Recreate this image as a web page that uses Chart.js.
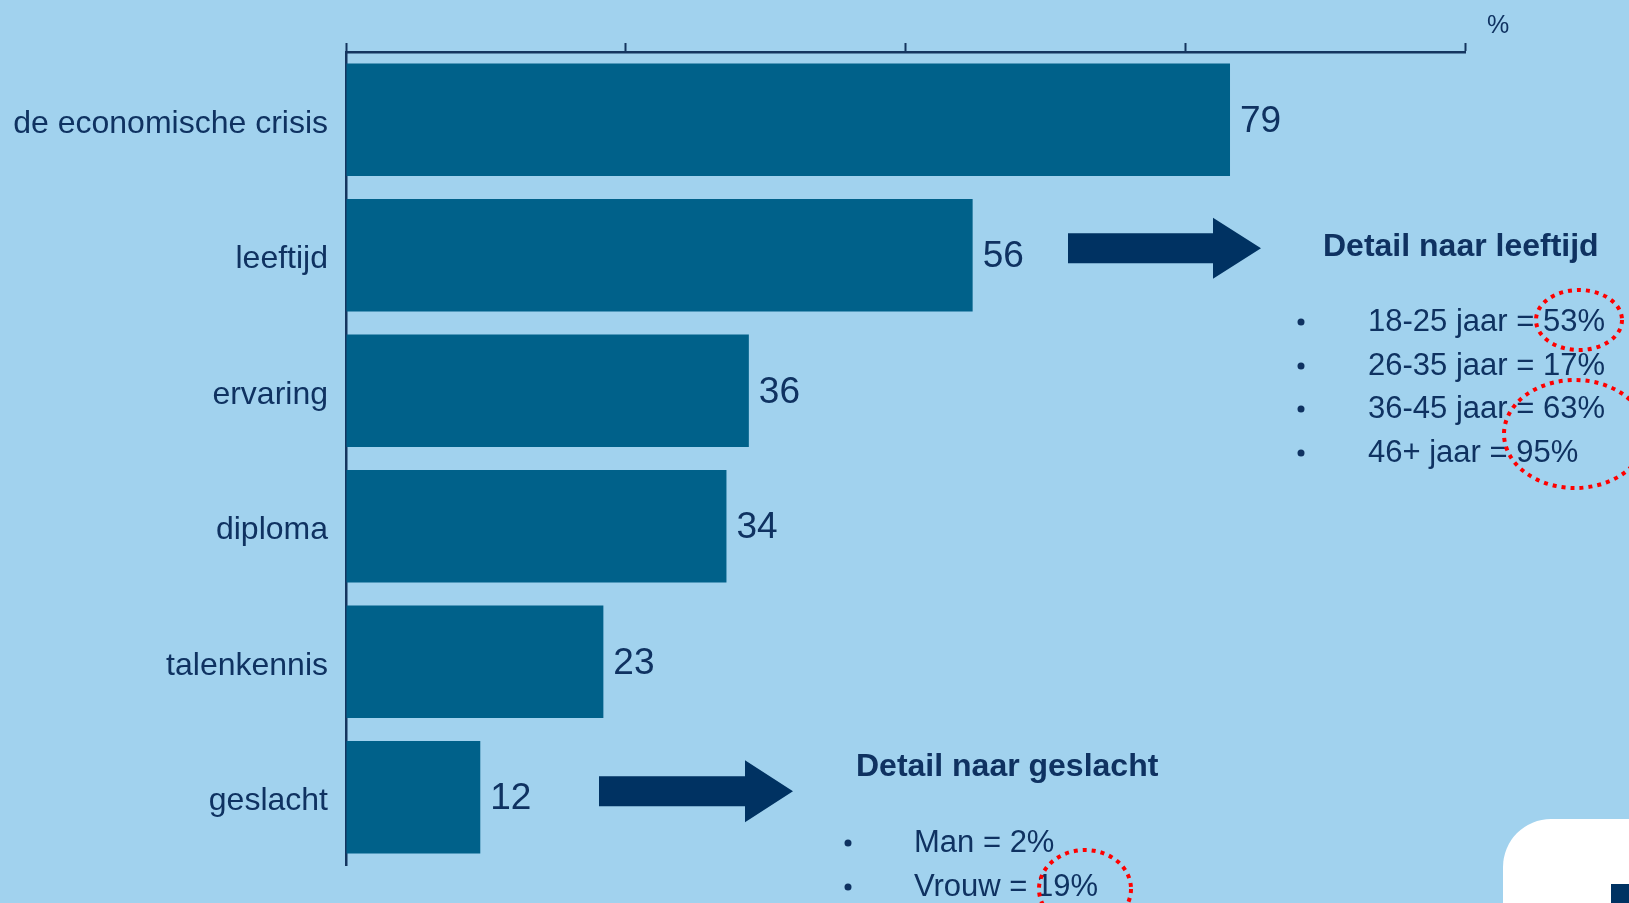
<!DOCTYPE html>
<html>
<head>
<meta charset="utf-8">
<script src="https://cdn.jsdelivr.net/npm/chart.js@4.4.1/dist/chart.umd.min.js"></script>
<style>
    html, body { margin: 0; padding: 0; background: #a1d2ee; overflow: hidden; }
    #wrap { position: relative; width: 1629px; height: 903px; }
</style>
</head>
<body>
<div id="wrap"><canvas id="chart" width="1629" height="903"></canvas></div>
<script>
// Data
const categories = ['de economische crisis', 'leeftijd', 'ervaring', 'diploma', 'talenkennis', 'geslacht'];
const shares = [79, 56, 36, 34, 23, 12];
const axisMax = 100;
const axisStep = 25;

// Detail lists
const ageGroups = ['18-25 jaar', '26-35 jaar', '36-45 jaar', '46+ jaar'];
const ageShares = [53, 17, 63, 95];
const genders = ['Man', 'Vrouw'];
const genderShares = [2, 19];

const NAVY = '#0f3261';
const ARROW = '#003262';
const BAR = '#00618a';
const FONT = '"Liberation Sans", Arial, sans-serif';

// Draw a block arrow pointing right
function drawArrow(ctx, x0, x1, headX, cy, bodyH, headH) {
    ctx.beginPath();
    ctx.moveTo(x0, cy - bodyH / 2);
    ctx.lineTo(headX, cy - bodyH / 2);
    ctx.lineTo(headX, cy - headH / 2);
    ctx.lineTo(x1, cy);
    ctx.lineTo(headX, cy + headH / 2);
    ctx.lineTo(headX, cy + bodyH / 2);
    ctx.lineTo(x0, cy + bodyH / 2);
    ctx.closePath();
    ctx.fillStyle = ARROW;
    ctx.fill();
}

function drawList(ctx, title, titleX, titleY, bulletX, textX, rowY, labels, values) {
    ctx.fillStyle = NAVY;
    ctx.textBaseline = 'middle';
    ctx.textAlign = 'left';
    ctx.font = 'bold 32px ' + FONT;
    ctx.fillText(title, titleX, titleY);
    ctx.font = '31px ' + FONT;
    labels.forEach((label, i) => {
        const y = rowY[i];
        ctx.beginPath();
        ctx.arc(bulletX, y, 3.5, 0, Math.PI * 2);
        ctx.fill();
        ctx.fillText(`${label} = ${values[i]}%`, textX, y);
    });
}

function dottedEllipse(ctx, cx, cy, rx, ry) {
    ctx.save();
    ctx.strokeStyle = '#ff0000';
    ctx.lineWidth = 4;
    ctx.setLineDash([4, 5]);
    ctx.beginPath();
    ctx.ellipse(cx, cy, rx, ry, 0, 0, Math.PI * 2);
    ctx.stroke();
    ctx.restore();
}

// Value labels next to bars + slide annotations
const annotations = {
    id: 'annotations',
    afterDatasetsDraw(chart) {
        const ctx = chart.ctx;
        const meta = chart.getDatasetMeta(0);
        ctx.save();
        ctx.fillStyle = NAVY;
        ctx.font = '37px ' + FONT;
        ctx.textAlign = 'left';
        ctx.textBaseline = 'middle';
        meta.data.forEach((bar, i) => {
            ctx.fillText(String(shares[i]), bar.x + 10, bar.y + 2);
        });
        ctx.restore();
    },
    afterDraw(chart) {
        const ctx = chart.ctx;
        ctx.save();

        // % unit label
        ctx.fillStyle = NAVY;
        ctx.font = '25px ' + FONT;
        ctx.textAlign = 'center';
        ctx.textBaseline = 'middle';
        ctx.fillText('%', 1498, 26);

        // arrows
        const yLeeftijd = chart.scales.y.getPixelForValue(1);
        const yGeslacht = chart.scales.y.getPixelForValue(5);
        drawArrow(ctx, 1068, 1261, 1213, yLeeftijd - 7, 30, 61);
        drawArrow(ctx, 599, 793, 745, yGeslacht - 6, 30, 62);

        // detail lists
        drawList(ctx, 'Detail naar leeftijd', 1323, 247, 1301, 1368, [322, 366, 409, 453], ageGroups, ageShares);
        drawList(ctx, 'Detail naar geslacht', 856, 767, 848, 914, [843, 887], genders, genderShares);

        // highlight circles
        dottedEllipse(ctx, 1579, 320, 43, 30);
        dottedEllipse(ctx, 1575, 434, 71, 54);
        dottedEllipse(ctx, 1085, 889, 46, 39);

        // slide corner decoration
        ctx.fillStyle = '#ffffff';
        ctx.beginPath();
        ctx.roundRect(1503, 819, 200, 200, 48);
        ctx.fill();
        ctx.fillStyle = '#003262';
        ctx.fillRect(1611, 884, 30, 30);

        ctx.restore();
    }
};

const chart = new Chart(document.getElementById('chart'), {
    type: 'bar',
    data: {
        labels: categories,
        datasets: [{
            data: shares,
            backgroundColor: BAR,
            borderWidth: 0,
            barPercentage: 0.83,
            categoryPercentage: 1
        }]
    },
    options: {
        indexAxis: 'y',
        responsive: false,
        animation: false,
        devicePixelRatio: 1,
        layout: {
            padding: { left: 0, top: 0, right: 164, bottom: 38 }
        },
        plugins: {
            legend: { display: false },
            tooltip: { enabled: false }
        },
        scales: {
            x: {
                position: 'top',
                min: 0,
                max: axisMax,
                ticks: { display: false, stepSize: axisStep },
                grid: {
                    display: true,
                    drawOnChartArea: false,
                    drawTicks: true,
                    tickLength: 9,
                    tickColor: '#14355f',
                    tickWidth: 2
                },
                border: { display: true, color: '#14355f', width: 2.5 },
                afterFit(scale) { scale.height = 52; }
            },
            y: {
                grid: { display: false },
                border: { display: true, color: '#14355f', width: 2.5 },
                ticks: {
                    color: NAVY,
                    padding: 10,
                    labelOffset: 4,
                    font: { family: FONT, size: 32 }
                },
                afterFit(scale) { scale.width = 346; }
            }
        }
    },
    plugins: [annotations]
});
</script>
</body>
</html>
